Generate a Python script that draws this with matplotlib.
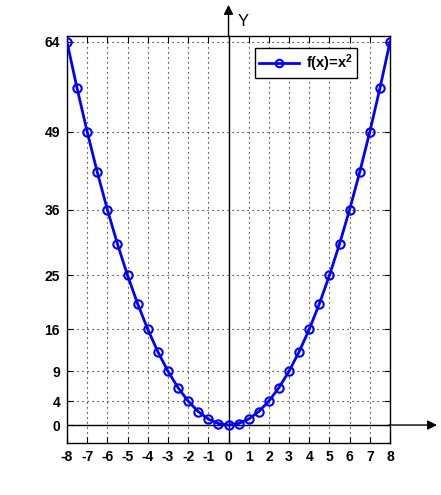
import numpy as np
import matplotlib
matplotlib.use("Agg")
import matplotlib.pyplot as plt

x_vals = [-8, -7.5, -7, -6.5, -6, -5.5, -5, -4.5, -4, -3.5, -3, -2.5, -2, -1.5, -1, -0.5,
          0, 0.5, 1, 1.5, 2, 2.5, 3, 3.5, 4, 4.5, 5, 5.5, 6, 6.5, 7, 7.5, 8]
y_vals = [64, 56.25, 49, 42.25, 36, 30.25, 25, 20.25, 16, 12.25, 9, 6.25, 4, 2.25, 1, 0.25,
          0, 0.25, 1, 2.25, 4, 6.25, 9, 12.25, 16, 20.25, 25, 30.25, 36, 42.25, 49, 56.25, 64]
x_ticks = [-8, -7, -6, -5, -4, -3, -2, -1, 0, 1, 2, 3, 4, 5, 6, 7, 8]
y_ticks = [0, 4, 9, 16, 25, 36, 49, 64]
legend_label = "f(x)=x$^2$"

plt.rcParams['font.family'] = ['Liberation Sans', 'DejaVu Sans']
plt.rcParams['mathtext.fontset'] = 'custom'
plt.rcParams['mathtext.rm'] = 'Liberation Sans:bold'
plt.rcParams['mathtext.it'] = 'Liberation Sans:bold'

fig = plt.figure(figsize=(4.41, 4.95), dpi=100)
ax = fig.add_axes([67/441, 1-443/495, (390-67)/441, (443-36)/495])

ax.set_xlim(-8, 8)
ax.set_ylim(-3, 65)

ax.plot(x_vals, y_vals, color='#0000ff', lw=2, marker='o', ms=6, mfc='none',
        mew=1.5, label=legend_label, zorder=5)

ax.set_xticks(x_ticks)
ax.set_yticks(y_ticks)
ax.set_xticklabels([str(v) for v in x_ticks], fontweight='bold', fontsize=10)
ax.set_yticklabels([str(v) for v in y_ticks], fontweight='bold', fontsize=10)
ax.tick_params(direction='in', length=4, width=0.8, top=True, right=True, pad=5)
ax.grid(True, linestyle=(0, (1, 3.5)), color='black', lw=0.8)
for s in ax.spines.values():
    s.set_linewidth(1.0)

# coordinate axes with arrows
ax.plot([0, 0], [-3, 65], color='black', lw=1.0, zorder=3, clip_on=False)
ax.annotate('', xy=(0, 70.2), xycoords='data', xytext=(0, 64.9), textcoords='data',
            annotation_clip=False,
            arrowprops=dict(arrowstyle='-|>', color='black', lw=1.0, mutation_scale=14,
                            shrinkA=0, shrinkB=0))
ax.plot([-8, 8], [0, 0], color='black', lw=1.0, zorder=3)
ax.annotate('', xy=(10.33, 0), xycoords='data', xytext=(7.95, 0), textcoords='data',
            annotation_clip=False,
            arrowprops=dict(arrowstyle='-|>', color='black', lw=1.0, mutation_scale=14,
                            shrinkA=0, shrinkB=0))
fig.text(243/441, 1-21/495, 'Y', fontsize=12, ha='center', va='center')

leg = ax.legend(loc='upper left', bbox_to_anchor=((255-67)/323, 1-(48-36)/407),
                prop={'weight': 'bold', 'size': 10.5}, fancybox=False, framealpha=1,
                edgecolor='black', handlelength=2.7, borderpad=0.3, borderaxespad=0,
                handletextpad=0.5, markerscale=0.9)
leg.get_frame().set_linewidth(1.0)

fig.savefig('out.png', dpi=100)
